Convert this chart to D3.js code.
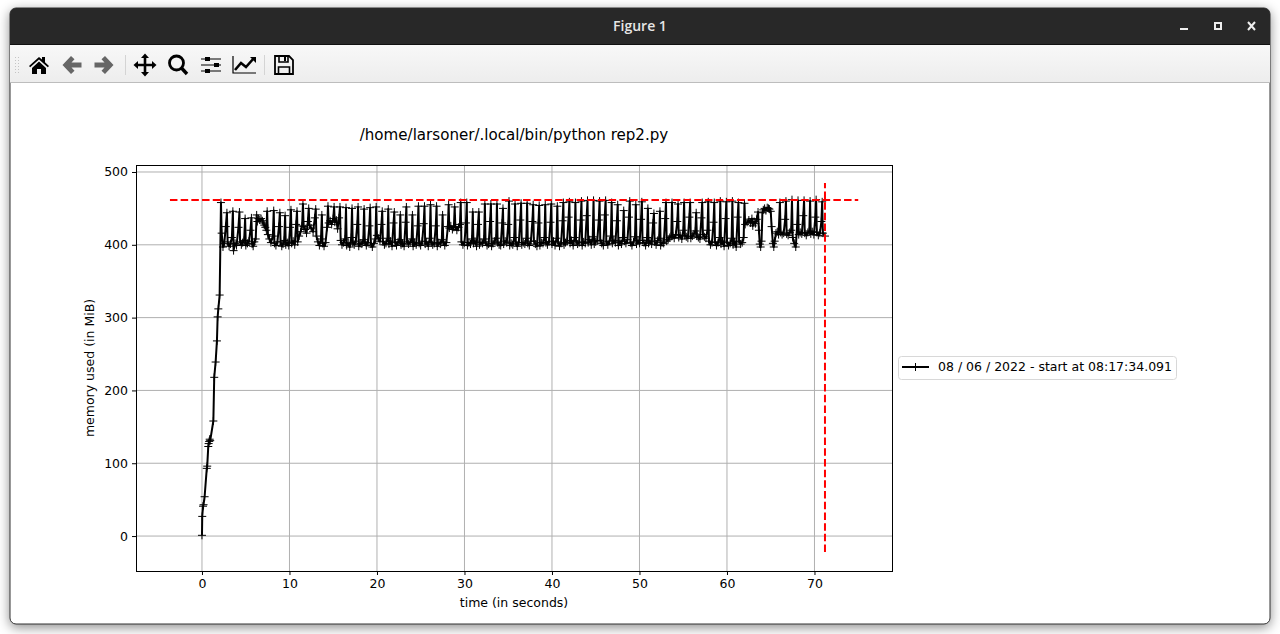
<!DOCTYPE html>
<html>
<head>
<meta charset="utf-8">
<script src="https://cdn.jsdelivr.net/npm/d3@7"></script>
<style>
body { margin:0; background:#fff; overflow:hidden; }
svg { display:block; }
text { font-family:"DejaVu Sans"; fill:#000; }
</style>
</head>
<body>
<svg id="figure" width="1280" height="634"></svg>
<script>
var xTicks = [0,10,20,30,40,50,60,70]
var yTicks = [0,100,200,300,400,500]
var titolo = "/home/larsoner/.local/bin/python rep2.py"
var legenda = "08 / 06 / 2022 - start at 08:17:34.091"

// picco massimo e fine del processo (linee rosse)
var maxMem = 461.5
var maxTime = 71.2
var hLineX = [-3.66,75]
var vLineY = [-22,485]

// tempo in secondi
var timeSec = [
0,0.03,0.12,0.18,0.3,0.55,0.6,0.72,0.76,0.82,0.88,0.94,1.3,1.4,1.56,1.71,1.79,1.87,2.02,2.17,
2.25,2.4,2.55,2.72,2.85,
2.93,3.1,3.25,3.42,3.53,
3.61,3.78,3.95,4.17,4.28,
4.36,4.5,4.65,4.82,4.93,
5.01,5.2,5.38,5.54,5.65,
5.73,5.85,5.98,6.14,6.25,
6.33,6.45,6.6,6.75,6.9,
7,7.12,7.24,7.36,7.45,
7.53,7.7,7.88,8.1,8.2,
8.28,8.45,8.62,8.8,8.9,
8.98,9.12,9.26,9.4,9.5,
9.58,9.75,9.92,10.07,10.17,
10.25,10.42,10.6,10.76,10.86,
10.94,11.1,11.28,11.44,11.54,
11.62,11.8,11.95,12.1,12.2,
12.28,12.47,12.7,12.9,13,
13.08,13.25,13.42,13.6,13.7,
13.78,13.95,14.12,14.3,14.4,
14.48,14.65,14.82,15,15.1,
15.18,15.35,15.5,15.67,15.77,
15.85,16,16.18,16.36,16.46,
16.54,16.71,16.89,17.06,17.15,
17.23,17.4,17.58,17.75,17.84,
17.92,18.09,18.27,18.44,18.53,
18.61,18.78,18.96,19.13,19.22,
19.3,19.47,19.65,19.82,19.91,
19.99,20.16,20.34,20.51,20.6,
20.68,20.85,21.03,21.2,21.29,
21.37,21.54,21.72,21.89,21.98,
22.06,22.23,22.41,22.58,22.67,
22.75,22.92,23.1,23.27,23.36,
23.44,23.61,23.79,23.96,24.05,
24.13,24.3,24.48,24.65,24.74,
24.82,24.99,25.17,25.34,25.43,
25.51,25.68,25.86,26.03,26.12,
26.2,26.37,26.55,26.72,26.81,
26.89,27.06,27.24,27.41,27.5,
27.58,27.75,27.93,28.1,28.19,
28.27,28.44,28.62,28.79,28.88,
28.96,29.13,29.31,29.48,29.57,
29.65,29.82,30,30.17,30.26,
30.34,30.51,30.69,30.86,30.95,
31.03,31.2,31.38,31.55,31.64,
31.72,31.89,32.07,32.24,32.33,
32.41,32.58,32.76,32.93,33.02,
33.1,33.27,33.45,33.62,33.71,
33.79,33.96,34.14,34.31,34.4,
34.48,34.65,34.83,35,35.09,
35.17,35.34,35.52,35.69,35.78,
35.86,36.03,36.21,36.38,36.47,
36.55,36.72,36.9,37.07,37.16,
37.24,37.41,37.59,37.76,37.85,
37.93,38.1,38.28,38.45,38.54,
38.62,38.79,38.97,39.14,39.23,
39.31,39.48,39.66,39.83,39.92,
40,40.17,40.35,40.52,40.61,
40.69,40.86,41.04,41.21,41.3,
41.38,41.55,41.73,41.9,41.99,
42.07,42.24,42.42,42.59,42.68,
42.76,42.93,43.11,43.28,43.37,
43.45,43.62,43.8,43.97,44.06,
44.14,44.31,44.49,44.66,44.75,
44.83,45,45.18,45.35,45.44,
45.52,45.69,45.87,46.04,46.13,
46.21,46.38,46.56,46.73,46.82,
46.9,47.07,47.25,47.42,47.51,
47.59,47.76,47.94,48.11,48.2,
48.28,48.45,48.63,48.8,48.89,
48.97,49.14,49.32,49.49,49.58,
49.66,49.83,50.01,50.18,50.27,
50.35,50.52,50.7,50.87,50.96,
51.04,51.21,51.39,51.56,51.65,
51.73,51.9,52.08,52.25,52.34,
52.42,52.59,52.77,52.94,53.03,
53.11,53.28,53.46,53.63,53.72,
53.8,53.97,54.15,54.32,54.41,
54.49,54.66,54.84,55.01,55.1,
55.18,55.35,55.53,55.7,55.79,
55.87,56.04,56.22,56.39,56.48,
56.56,56.73,56.91,57.08,57.17,
57.25,57.42,57.6,57.77,57.86,
57.94,58.11,58.29,58.46,58.55,
58.63,58.8,58.98,59.15,59.24,
59.32,59.49,59.67,59.84,59.93,
60.01,60.18,60.36,60.53,60.62,
60.7,60.87,61.05,61.22,61.31,
61.39,61.56,61.74,61.91,62,
62.08,62.3,62.5,62.7,62.85,
62.95,63.1,63.25,63.4,63.55,
63.65,63.75,63.85,63.95,64.05,
64.15,64.3,64.45,64.6,64.75,
64.85,65,65.1,65.25,65.35,
65.45,65.6,65.75,65.9,66.05,
66.13,66.3,66.48,66.65,66.74,
66.82,66.99,67.17,67.34,67.43,
67.51,67.68,67.86,68.03,68.12,
68.2,68.37,68.55,68.72,68.81,
68.89,69.06,69.24,69.41,69.5,
69.58,69.75,69.93,70.1,70.19,
70.27,70.44,70.62,70.79,70.88,
70.96,71.2
]

// memoria usata in MiB
var memMiB = [
1,27,41,43,54,93,96,123,127,130,133,131,158,218,239,268,301,312,331,458,
416,397,402,425,444,
404,398,401,410,446,
392,402,399,424,445,
404,400,403,406,436,
399,402,405,420,437,
401,398,404,408,441,
432,436,434,436,433,
430,427,424,420,446,
414,408,403,412,447,
402,399,404,425,444,
404,398,401,406,440,
400,403,399,424,448,
402,405,400,428,446,
404,412,418,426,456,
425,421,416,432,450,
427,423,418,437,449,
412,404,399,408,441,
402,398,403,424,453,
430,433,428,436,452,
431,434,422,437,452,
406,400,403,408,451,
399,402,397,410,450,
403,400,405,428,452,
398,402,401,407,449,
404,399,403,426,451,
401,397,402,408,452,
413,409,405,428,446,
404,400,402,409,449,
401,405,398,430,445,
403,399,404,407,441,
400,402,398,431,452,
404,401,403,408,441,
398,403,400,426,453,
402,399,405,429,453,
401,404,398,409,455,
403,400,402,426,453,
398,403,401,407,441,
404,399,403,425,455,
423,426,421,424,452,
425,420,424,428,458,
404,400,403,430,458,
399,403,401,408,445,
402,405,398,428,445,
400,403,402,408,456,
404,399,401,432,456,
398,402,405,409,456,
403,400,399,430,450,
401,405,403,428,460,
399,402,400,410,456,
404,398,403,434,457,
400,403,401,409,457,
402,399,405,432,455,
405,401,398,430,454,
399,403,402,410,455,
403,400,404,431,456,
401,405,399,409,453,
404,398,402,433,458,
400,403,405,438,459,
402,406,399,410,458,
405,401,403,434,460,
399,404,402,440,461,
403,407,400,411,461,
401,404,406,434,460,
406,402,399,441,461,
404,400,405,412,458,
402,406,403,433,455,
399,405,401,410,447,
405,402,407,438,460,
403,399,404,411,455,
401,406,402,435,459,
406,403,399,410,450,
402,405,401,430,443,
404,400,406,409,446,
399,403,402,436,458,
405,407,410,412,458,
412,409,414,432,456,
410,413,408,420,458,
413,411,409,438,458,
409,412,415,419,444,
412,410,408,437,458,
414,411,409,420,459,
405,400,403,431,458,
404,399,403,410,460,
401,405,398,436,459,
403,399,402,409,460,
400,404,397,438,458,
405,401,403,410,457,
428,431,434,430,436,
426,432,429,435,445,
420,401,397,405,444,
448,450,447,451,450,
449,446,425,402,397,
405,416,418,414,458,
417,414,416,435,460,
415,413,417,420,462,
410,402,397,428,461,
414,417,415,440,461,
416,413,417,419,460,
415,418,414,438,462,
417,413,416,432,459,
416,412
]

var margin = {left:136, right:892, top:165, bottom:571}

var svg = d3.select("#figure")

disegnaFinestra()
disegnaToolbar()
disegnaGrafico()

// Cornice e barra del titolo
function disegnaFinestra(){
  var defs = svg.append("defs")
  var grad = defs.append("linearGradient").attr("id","tb").attr("x1",0).attr("x2",0).attr("y1",0).attr("y2",1)
  grad.append("stop").attr("offset","0%").attr("stop-color","#f8f8f8")
  grad.append("stop").attr("offset","100%").attr("stop-color","#ededed")

  svg.append("rect").attr("x",10).attr("y",8).attr("width",1260).attr("height",616).attr("rx",6)
    .attr("fill","#fff").attr("stroke","#333").attr("stroke-width",1)
    .style("filter","drop-shadow(0 3px 6px rgba(0,0,0,0.45))")
  svg.append("path").attr("d","M10,44V14a6,6 0 0 1 6,-6H1264a6,6 0 0 1 6,6V44Z").attr("fill","#282828")
  svg.append("rect").attr("x",10).attr("y",44).attr("width",1260).attr("height",1).attr("fill","#111")
  svg.append("rect").attr("x",10).attr("y",45).attr("width",1260).attr("height",37).attr("fill","url(#tb)")
  svg.append("rect").attr("x",10).attr("y",82).attr("width",1260).attr("height",1).attr("fill","#bdbdbd")

  svg.append("text").attr("x",640).attr("y",31).attr("text-anchor","middle")
    .style("font-family","'Open Sans'").style("font-weight",600).style("font-size","14px").style("fill","#e6e6e6")
    .text("Figure 1")

  svg.append("rect").attr("x",1180).attr("y",28).attr("width",8).attr("height",2).attr("fill","#eee")
  svg.append("rect").attr("x",1215).attr("y",23).attr("width",6).attr("height",6)
    .attr("fill","none").attr("stroke","#eee").attr("stroke-width",2)
  svg.append("path").attr("d","M1248,22L1255,30M1255,22L1248,30").attr("stroke","#eee").attr("stroke-width",2).attr("fill","none")
}

// Icone della toolbar di matplotlib
function disegnaToolbar(){
  var grip = svg.append("g").attr("fill","#c4c4c4")
  for (let r = 0; r < 6; r++)
    for (let c = 0; c < 2; c++)
      grip.append("rect").attr("x",15+c*3).attr("y",57+r*3).attr("width",1).attr("height",1)

  svg.append("rect").attr("x",125).attr("y",55).attr("width",1).attr("height",20).attr("fill","#d4d4d4")
  svg.append("rect").attr("x",264).attr("y",55).attr("width",1).attr("height",20).attr("fill","#d4d4d4")

  var icons = [
    {x:39, y:65, col:"#000", d:"M-10,1L0,-8L3,-5.4V-8H6V-2.8L10,1L8.8,2.2L0,-5.6L-8.8,2.2ZM-7,3L0,-3.4L7,3V9H2V4H-2V9H-7Z"},
    {x:72, y:65, col:"#666", d:"M-9.5,0L-1,-9L2.5,-5.8L-0.5,-2.6H9.5V2.6H-0.5L2.5,5.8L-1,9Z"},
    {x:104, y:65, col:"#666", d:"M9.5,0L1,-9L-2.5,-5.8L0.5,-2.6H-9.5V2.6H0.5L-2.5,5.8L1,9Z"},
    {x:145, y:65, col:"#000", d:"M0,-11.5L4,-7H1.3V-1.3H7V-4L11.5,0L7,4V1.3H1.3V7H4L0,11.5L-4,7H-1.3V1.3H-7V4L-11.5,0L-7,-4V-1.3H-1.3V-7H-4Z"}
  ]
  icons.forEach(function(ic){
    svg.append("path").attr("transform","translate("+ic.x+","+ic.y+")").attr("d",ic.d).attr("fill",ic.col)
  })

  // lente
  svg.append("circle").attr("cx",176.5).attr("cy",63).attr("r",7).attr("fill","none").attr("stroke","#000").attr("stroke-width",2.8)
  svg.append("path").attr("d","M181.5,68L187,74").attr("stroke","#000").attr("stroke-width",3.4)

  // cursori
  var sl = svg.append("g").attr("stroke","#000").attr("fill","#000")
  ;[[59,207],[65,216],[71,207]].forEach(function(s){
    sl.append("rect").attr("x",201).attr("y",s[0]-0.5).attr("width",20).attr("height",1).attr("stroke","none")
    sl.append("rect").attr("x",s[1]-2).attr("y",s[0]-2).attr("width",5).attr("height",4).attr("stroke","none")
  })

  // grafico
  svg.append("path").attr("d","M233,56V73H256").attr("fill","none").attr("stroke","#000").attr("stroke-width",1.2)
  svg.append("path").attr("d","M235,70L241,63L246,67L254,58").attr("fill","none").attr("stroke","#000").attr("stroke-width",2.6)
  svg.append("path").attr("d","M250,57H256V63Z").attr("fill","#000")

  // salva
  svg.append("path").attr("d","M275,56H289L293,60V74H275Z").attr("fill","none").attr("stroke","#000").attr("stroke-width",1.8)
  svg.append("path").attr("d","M279,56V62H288V56M278.5,74V67H289.5V74").attr("fill","none").attr("stroke","#000").attr("stroke-width",1.6)
  svg.append("rect").attr("x",284).attr("y",57).attr("width",2).attr("height",4).attr("fill","#000")
}

function disegnaGrafico(){
  var scaleX = d3.scaleLinear().domain([-7.54,78.86]).range([margin.left,margin.right])
  var scaleY = d3.scaleLinear().domain([-48,509.6]).range([margin.bottom,margin.top])

  var grid = svg.append("g").attr("stroke","#b0b0b0").attr("stroke-width",1)
  xTicks.forEach(function(t){
    grid.append("line").attr("x1",scaleX(t)).attr("x2",scaleX(t)).attr("y1",margin.top).attr("y2",margin.bottom)
  })
  yTicks.forEach(function(t){
    grid.append("line").attr("x1",margin.left).attr("x2",margin.right).attr("y1",scaleY(t)).attr("y2",scaleY(t))
  })

  var line = d3.line().x(function(d,i){return scaleX(timeSec[i])}).y(function(d){return scaleY(d)})
  svg.append("path").datum(memMiB).attr("d",line).attr("fill","none").attr("stroke","#000").attr("stroke-width",2).attr("stroke-linejoin","round")

  // marker "+"
  svg.append("g").selectAll("path").data(memMiB).join("path")
    .attr("d","M-4,0H4M0,-4V4")
    .attr("transform",function(d,i){return "translate("+scaleX(timeSec[i])+","+scaleY(d)+")"})
    .attr("fill","none").attr("stroke","#000").attr("stroke-width",1)

  // linee rosse tratteggiate
  svg.append("line").attr("x1",scaleX(hLineX[0])).attr("x2",scaleX(hLineX[1])).attr("y1",scaleY(maxMem)).attr("y2",scaleY(maxMem))
    .attr("stroke","#f00").attr("stroke-width",2).attr("stroke-dasharray","7.5,3.2")
  svg.append("line").attr("x1",scaleX(maxTime)).attr("x2",scaleX(maxTime)).attr("y1",scaleY(vLineY[0])).attr("y2",scaleY(vLineY[1]))
    .attr("stroke","#f00").attr("stroke-width",2).attr("stroke-dasharray","7.5,3.2")

  // assi
  var axX = svg.append("g").attr("transform","translate(0,"+margin.bottom+")")
    .call(d3.axisBottom(scaleX).tickValues(xTicks).tickSize(4).tickPadding(4).tickFormat(d3.format("d")))
  var axY = svg.append("g").attr("transform","translate("+margin.left+",0)")
    .call(d3.axisLeft(scaleY).tickValues(yTicks).tickSize(4).tickPadding(4).tickFormat(d3.format("d")))
  ;[axX,axY].forEach(function(a){
    a.select(".domain").remove()
    a.selectAll("text").style("font-family","'DejaVu Sans'").style("font-size","12.5px")
  })
  svg.append("rect").attr("x",margin.left+.5).attr("y",margin.top+.5).attr("width",margin.right-margin.left).attr("height",margin.bottom-margin.top)
    .attr("fill","none").attr("stroke","#000").attr("stroke-width",1)

  svg.append("text").attr("x",514).attr("y",140).attr("text-anchor","middle").style("font-size","15.1px").text(titolo)
  svg.append("text").attr("x",514).attr("y",607).attr("text-anchor","middle").style("font-size","12.5px").text("time (in seconds)")
  svg.append("text").attr("transform","translate(94,368) rotate(-90)").attr("text-anchor","middle").style("font-size","12.5px").text("memory used (in MiB)")

  // legenda
  svg.append("rect").attr("x",898.5).attr("y",356.5).attr("width",278).attr("height",23).attr("rx",3)
    .attr("fill","#fff").attr("stroke","#d8d8d8").attr("stroke-width",1)
  svg.append("line").attr("x1",902).attr("x2",929).attr("y1",367).attr("y2",367).attr("stroke","#000").attr("stroke-width",2)
  svg.append("path").attr("d","M911.5,367H919.5M915.5,363V371").attr("fill","none").attr("stroke","#000").attr("stroke-width",1)
  svg.append("text").attr("x",938).attr("y",371).style("font-size","12.5px").text(legenda)
}
</script>
</body>
</html>
